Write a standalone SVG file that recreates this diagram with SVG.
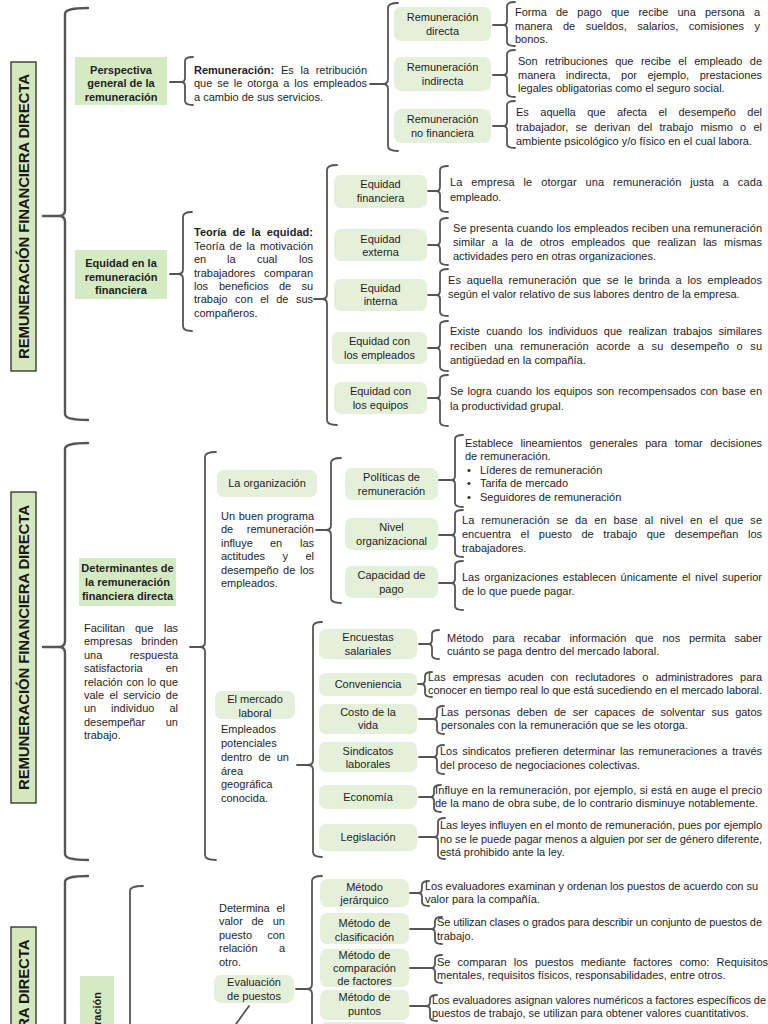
<svg xmlns="http://www.w3.org/2000/svg" width="768" height="1024" viewBox="0 0 768 1024">
<style>
.t{font-family:"Liberation Sans",Arial,Helvetica,sans-serif;font-size:11px;fill:#1e1e1e}
.b{font-weight:bold}
.c{text-anchor:middle}
.e{text-anchor:end}
.tt{font-family:"Liberation Sans",Arial,Helvetica,sans-serif;font-size:15px;font-weight:bold;fill:#1a1a1a;text-anchor:middle}
.sq{fill:#d4eac2}
.rd{fill:#e4f0d9}
.ttl{fill:#d3e9bd;stroke:#2b2b2b;stroke-width:1.3}
.br{fill:none;stroke:#555;stroke-width:1.8;stroke-linecap:round;stroke-linejoin:round}
.bg{stroke-width:2.4}
</style>
<rect width="768" height="1024" fill="#fff"/>

<g id="connectors">
<path class="br bg" d="M88,8 Q65,8 65,14 L65,210 Q65,216 59,216 L43,216 M59,216 Q65,216 65,222 L65,414 Q65,420 88,420"/>
<path class="br" d="M193,57 Q185,57 185,61 L185,78 Q185,82 181,82 L170,82 M181,82 Q185,82 185,86 L185,101 Q185,105 193,105"/>
<path class="br" d="M398,3 Q388,3 388,8 L388,79 Q388,84 383,84 L370,84 M383,84 Q388,84 388,89 L388,146 Q388,151 398,151"/>
<path class="br" d="M515,2 Q507,2 507,6 L507,21 Q507,25 503,25 L493,25 M503,25 Q507,25 507,29 L507,42 Q507,46 515,46"/>
<path class="br" d="M515,50 Q507,50 507,54 L507,71 Q507,75 503,75 L493,75 M503,75 Q507,75 507,79 L507,93 Q507,97 515,97"/>
<path class="br" d="M515,101 Q507,101 507,105 L507,122 Q507,126 503,126 L493,126 M503,126 Q507,126 507,130 L507,144 Q507,148 515,148"/>
<path class="br" d="M192,212 Q183,212 183,217 L183,269 Q183,274 178,274 L170,274 M178,274 Q183,274 183,279 L183,326 Q183,331 192,331"/>
<path class="br" d="M337,165 Q327,165 327,170 L327,294 Q327,299 322,299 L314,299 M322,299 Q327,299 327,304 L327,420 Q327,425 337,425"/>
<path class="br" d="M448,166 Q440,166 440,170 L440,187 Q440,191 436,191 L428,191 M436,191 Q440,191 440,195 L440,208 Q440,212 448,212"/>
<path class="br" d="M448,218 Q440,218 440,222 L440,241 Q440,245 436,245 L428,245 M436,245 Q440,245 440,249 L440,261 Q440,265 448,265"/>
<path class="br" d="M448,269 Q440,269 440,273 L440,291 Q440,295 436,295 L428,295 M436,295 Q440,295 440,299 L440,312 Q440,316 448,316"/>
<path class="br" d="M448,321 Q440,321 440,325 L440,344 Q440,348 436,348 L428,348 M436,348 Q440,348 440,352 L440,367 Q440,371 448,371"/>
<path class="br" d="M448,375 Q440,375 440,379 L440,394 Q440,398 436,398 L428,398 M436,398 Q440,398 440,402 L440,422 Q440,426 448,426"/>

<path class="br bg" d="M88,443 Q65,443 65,449 L65,641 Q65,647 59,647 L43,647 M59,647 Q65,647 65,653 L65,854 Q65,860 88,860"/>
<path class="br" d="M216,452 Q205,452 205,457 L205,642 Q205,647 200,647 L190,647 M200,647 Q205,647 205,652 L205,855 Q205,860 216,860"/>
<path class="br" d="M341,458 Q331,458 331,463 L331,525 Q331,530 326,530 L316,530 M326,530 Q331,530 331,535 L331,598 Q331,603 341,603"/>
<path class="br" d="M463,435 Q455,435 455,439 L455,476 Q455,480 451,480 L439,480 M451,480 Q455,480 455,484 L455,503 Q455,507 463,507"/>
<path class="br" d="M463,510 Q455,510 455,514 L455,531 Q455,535 451,535 L439,535 M451,535 Q455,535 455,539 L455,553 Q455,557 463,557"/>
<path class="br" d="M463,561 Q455,561 455,565 L455,579 Q455,583 451,583 L439,583 M451,583 Q455,583 455,587 L455,606 Q455,610 463,610"/>
<path class="br" d="M322,622 Q313,622 313,627 L313,760 Q313,765 308,765 L297,765 M308,765 Q313,765 313,770 L313,852 Q313,857 322,857"/>
<path class="br" d="M439,630 Q432,630 432,634 L432,640 Q432,644 428,644 L419,644 M428,644 Q432,644 432,648 L432,655 Q432,659 439,659"/>
<path class="br" d="M432,672 Q425,672 425,676 L425,680 Q425,684 421,684 L418,684 M421,684 Q425,684 425,688 L425,693 Q425,697 432,697"/>
<path class="br" d="M444,706 Q437,706 437,710 L437,715 Q437,719 433,719 L419,719 M433,719 Q437,719 437,723 L437,730 Q437,734 444,734"/>
<path class="br" d="M444,745 Q437,745 437,749 L437,753 Q437,757 433,757 L419,757 M433,757 Q437,757 437,761 L437,770 Q437,774 444,774"/>
<path class="br" d="M441,785 Q434,785 434,789 L434,793 Q434,797 430,797 L419,797 M430,797 Q434,797 434,801 L434,808 Q434,812 441,812"/>
<path class="br" d="M445,818 Q438,818 438,822 L438,833 Q438,837 434,837 L419,837 M434,837 Q438,837 438,841 L438,855 Q438,859 445,859"/>

<path class="br bg" d="M88,876 Q65,876 65,882 L65,1030"/>
<path class="br" d="M143,886 Q130,886 130,891 L130,1030"/>
<path class="br" d="M322,876 Q312,876 312,881 L312,984 Q312,989 307,989 L296,989 M307,989 Q312,989 312,994 L312,1030"/>
<path class="br" d="M429,881 Q422,881 422,885 L422,889 Q422,893 418,893 L410,893 M418,893 Q422,893 422,897 L422,902 Q422,906 429,906"/>
<path class="br" d="M442,917 Q435,917 435,921 L435,925 Q435,929 431,929 L410,929 M431,929 Q435,929 435,933 L435,940 Q435,944 442,944"/>
<path class="br" d="M442,955 Q435,955 435,959 L435,964 Q435,968 431,968 L410,968 M431,968 Q435,968 435,972 L435,979 Q435,983 442,983"/>
<path class="br" d="M437,995 Q430,995 430,999 L430,1002 Q430,1006 426,1006 L410,1006 M426,1006 Q430,1006 430,1010 L430,1017 Q430,1021 437,1021"/>
<path class="br" d="M249,1006 L236,1024"/>
</g>

<!-- Section 1 -->
<g id="title-1">
<rect class="ttl" x="11" y="62" width="25" height="309"/>
<text class="tt" transform="translate(29,216.5) rotate(-90)" textLength="285">REMUNERACIÓN FINANCIERA DIRECTA</text>
</g>
<g id="n-perspectiva">
<rect class="sq" x="75" y="57" width="92" height="48"/>
<text class="t b c" x="121" y="74">Perspectiva</text>
<text class="t b c" x="121" y="87">general de la</text>
<text class="t b c" x="121" y="101">remuneración</text>
</g>
<g id="n-remuneracion-def">
<text class="t b" x="194" y="74">Remuneración:</text>
<text class="t" x="281" y="74">Es</text>
<text class="t" x="300.5" y="74">la</text>
<text class="t e" x="367" y="74">retribución</text>
<text class="t" x="194" y="87" style="word-spacing:1.8px" textLength="173">que se le otorga a los empleados</text>
<text class="t" x="194" y="101">a cambio de sus servicios.</text>
</g>
<g id="n-rem-directa">
<rect class="rd" x="394" y="7" width="97" height="34" rx="7"/>
<text class="t c" x="442.5" y="21">Remuneración</text>
<text class="t c" x="442.5" y="35">directa</text>
</g>
<g id="n-rem-indirecta">
<rect class="rd" x="394" y="57" width="97" height="34" rx="7"/>
<text class="t c" x="442.5" y="71">Remuneración</text>
<text class="t c" x="442.5" y="85">indirecta</text>
</g>
<g id="n-rem-nofin">
<rect class="rd" x="394" y="109" width="97" height="34" rx="7"/>
<text class="t c" x="442.5" y="123">Remuneración</text>
<text class="t c" x="442.5" y="137">no financiera</text>
</g>
<g id="d-rem-directa">
<text class="t" x="515" y="16" style="word-spacing:6.1px" textLength="245">Forma de pago que recibe una persona a</text>
<text class="t" x="515" y="30" style="word-spacing:7.5px" textLength="245">manera de sueldos, salarios, comisiones y</text>
<text class="t" x="515" y="43">bonos.</text>
</g>
<g id="d-rem-indirecta">
<text class="t" x="518" y="65" style="word-spacing:4.4px" textLength="244">Son retribuciones que recibe el empleado de</text>
<text class="t" x="518" y="79" style="word-spacing:7.5px" textLength="244">manera indirecta, por ejemplo, prestaciones</text>
<text class="t" x="518" y="92">legales obligatorias como el seguro social.</text>
</g>
<g id="d-rem-nofin">
<text class="t" x="516" y="116" style="word-spacing:8.4px" textLength="246">Es aquella que afecta el desempeño del</text>
<text class="t" x="516" y="131" style="word-spacing:4.1px" textLength="246">trabajador, se derivan del trabajo mismo o el</text>
<text class="t" x="516" y="145">ambiente psicológico y/o físico en el cual labora.</text>
</g>

<g id="n-equidad">
<rect class="sq" x="75" y="250" width="92" height="49"/>
<text class="t b c" x="121" y="267">Equidad en la</text>
<text class="t b c" x="121" y="281">remuneración</text>
<text class="t b c" x="121" y="294">financiera</text>
</g>
<g id="n-teoria">
<text class="t b" x="194" y="236" style="word-spacing:3px" textLength="119">Teoría de la equidad:</text>
<text class="t" x="194" y="250" style="word-spacing:1.6px" textLength="119">Teoría de la motivación</text>
<text class="t" x="194" y="263">en</text>
<text class="t" x="227" y="263">la</text>
<text class="t" x="257" y="263">cual</text>
<text class="t e" x="313" y="263">los</text>
<text class="t" x="194" y="277" style="word-spacing:5.9px" textLength="119">trabajadores comparan</text>
<text class="t" x="194" y="290">los</text>
<text class="t" x="219" y="290">beneficios</text>
<text class="t" x="279" y="290">de</text>
<text class="t e" x="313" y="290">su</text>
<text class="t" x="194" y="303" style="word-spacing:4.4px" textLength="119">trabajo con el de sus</text>
<text class="t" x="194" y="317">compañeros.</text>
</g>
<g id="n-eq-fin">
<rect class="rd" x="334" y="175" width="93" height="33" rx="7"/>
<text class="t c" x="380.5" y="188">Equidad</text>
<text class="t c" x="380.5" y="202">financiera</text>
</g>
<g id="n-eq-ext">
<rect class="rd" x="334" y="229" width="93" height="32" rx="7"/>
<text class="t c" x="380.5" y="243">Equidad</text>
<text class="t c" x="380.5" y="256">externa</text>
</g>
<g id="n-eq-int">
<rect class="rd" x="334" y="279" width="93" height="32" rx="7"/>
<text class="t c" x="380.5" y="292">Equidad</text>
<text class="t c" x="380.5" y="305">interna</text>
</g>
<g id="n-eq-emp">
<rect class="rd" x="332" y="332" width="95" height="32" rx="7"/>
<text class="t c" x="379.5" y="345">Equidad con</text>
<text class="t c" x="379.5" y="359">los empleados</text>
</g>
<g id="n-eq-equipos">
<rect class="rd" x="334" y="382" width="93" height="32" rx="7"/>
<text class="t c" x="380.5" y="395">Equidad con</text>
<text class="t c" x="380.5" y="409">los equipos</text>
</g>
<g id="d-eq-fin">
<text class="t" x="450" y="186" style="word-spacing:5.7px" textLength="312">La empresa le otorgar una remuneración justa a cada</text>
<text class="t" x="450" y="201">empleado.</text>
</g>
<g id="d-eq-ext">
<text class="t" x="453" y="232" textLength="309">Se presenta cuando los empleados reciben una remuneración</text>
<text class="t" x="453" y="246" style="word-spacing:3.9px" textLength="309">similar a la de otros empleados que realizan las mismas</text>
<text class="t" x="453" y="260">actividades pero en otras organizaciones.</text>
</g>
<g id="d-eq-int">
<text class="t" x="448" y="284" style="word-spacing:2.6px" textLength="314">Es aquella remuneración que se le brinda a los empleados</text>
<text class="t" x="448" y="298">según el valor relativo de sus labores dentro de la empresa.</text>
</g>
<g id="d-eq-emp">
<text class="t" x="450" y="335" style="word-spacing:3.1px" textLength="312">Existe cuando los individuos que realizan trabajos similares</text>
<text class="t" x="450" y="350" style="word-spacing:4.3px" textLength="312">reciben una remuneración acorde a su desempeño o su</text>
<text class="t" x="450" y="364">antigüedad en la compañía.</text>
</g>
<g id="d-eq-equipos">
<text class="t" x="450" y="395" style="word-spacing:1px" textLength="312">Se logra cuando los equipos son recompensados con base en</text>
<text class="t" x="450" y="410">la productividad grupal.</text>
</g>

<!-- Section 2 -->
<g id="title-2">
<rect class="ttl" x="11" y="492" width="25" height="311"/>
<text class="tt" transform="translate(29,647.5) rotate(-90)" textLength="285">REMUNERACIÓN FINANCIERA DIRECTA</text>
</g>
<g id="n-determinantes">
<rect class="sq" x="79" y="558" width="97" height="48"/>
<text class="t b c" x="127.5" y="572">Determinantes de</text>
<text class="t b c" x="127.5" y="586">la remuneración</text>
<text class="t b c" x="127.5" y="600">financiera directa</text>
<text class="t" x="84" y="632">Facilitan</text>
<text class="t" x="135" y="632">que</text>
<text class="t e" x="178" y="632">las</text>
<text class="t" x="84" y="645">empresas</text>
<text class="t e" x="178" y="645">brinden</text>
<text class="t" x="84" y="659">una</text>
<text class="t e" x="178" y="659">respuesta</text>
<text class="t" x="84" y="672">satisfactoria</text>
<text class="t e" x="178" y="672">en</text>
<text class="t" x="84" y="686" style="word-spacing:0.5px" textLength="94">relación con lo que</text>
<text class="t" x="84" y="699" style="word-spacing:2.2px" textLength="94">vale el servicio de</text>
<text class="t" x="84" y="712">un</text>
<text class="t" x="111" y="712">individuo</text>
<text class="t e" x="178" y="712">al</text>
<text class="t" x="84" y="726">desempeñar</text>
<text class="t e" x="178" y="726">un</text>
<text class="t" x="84" y="739">trabajo.</text>
</g>
<g id="n-organizacion">
<rect class="rd" x="217" y="470" width="100" height="27" rx="7"/>
<text class="t c" x="267" y="487">La organización</text>
<text class="t" x="221" y="520" style="word-spacing:0.6px" textLength="93">Un buen programa</text>
<text class="t" x="221" y="533">de</text>
<text class="t e" x="314" y="533">remuneración</text>
<text class="t" x="221" y="547">influye</text>
<text class="t" x="270" y="547">en</text>
<text class="t e" x="314" y="547">las</text>
<text class="t" x="221" y="560">actitudes</text>
<text class="t" x="282.5" y="560">y</text>
<text class="t e" x="314" y="560">el</text>
<text class="t" x="221" y="574" style="word-spacing:1.5px" textLength="93">desempeño de los</text>
<text class="t" x="221" y="587">empleados.</text>
</g>
<g id="n-politicas">
<rect class="rd" x="345" y="468" width="93" height="32" rx="7"/>
<text class="t c" x="391.5" y="481">Políticas de</text>
<text class="t c" x="391.5" y="495">remuneración</text>
</g>
<g id="n-nivel">
<rect class="rd" x="345" y="518" width="93" height="32" rx="7"/>
<text class="t c" x="391.5" y="531">Nivel</text>
<text class="t c" x="391.5" y="545">organizacional</text>
</g>
<g id="n-capacidad">
<rect class="rd" x="345" y="566" width="93" height="32" rx="7"/>
<text class="t c" x="391.5" y="579">Capacidad de</text>
<text class="t c" x="391.5" y="593">pago</text>
</g>
<g id="d-politicas">
<text class="t" x="465" y="447" style="word-spacing:4.5px" textLength="297">Establece lineamientos generales para tomar decisiones</text>
<text class="t" x="465" y="460">de remuneración.</text>
<text class="t" x="467" y="474">•</text><text class="t" x="480" y="474">Líderes de remuneración</text>
<text class="t" x="467" y="487">•</text><text class="t" x="480" y="487">Tarifa de mercado</text>
<text class="t" x="467" y="501">•</text><text class="t" x="480" y="501">Seguidores de remuneración</text>
</g>
<g id="d-nivel">
<text class="t" x="462" y="524" style="word-spacing:3.7px" textLength="300">La remuneración se da en base al nivel en el que se</text>
<text class="t" x="462" y="538" style="word-spacing:6.6px" textLength="300">encuentra el puesto de trabajo que desempeñan los</text>
<text class="t" x="462" y="552">trabajadores.</text>
</g>
<g id="d-capacidad">
<text class="t" x="462" y="581" style="word-spacing:1.5px" textLength="300">Las organizaciones establecen únicamente el nivel superior</text>
<text class="t" x="462" y="595">de lo que puede pagar.</text>
</g>
<g id="n-mercado">
<rect class="rd" x="215" y="691" width="80" height="28" rx="7"/>
<text class="t c" x="255" y="703">El mercado</text>
<text class="t c" x="255" y="717">laboral</text>
<text class="t" x="221" y="733">Empleados</text>
<text class="t" x="221" y="747">potenciales</text>
<text class="t" x="221" y="761">dentro</text>
<text class="t" x="258.5" y="761">de</text>
<text class="t e" x="289" y="761">un</text>
<text class="t" x="221" y="775">área</text>
<text class="t" x="221" y="788">geográfica</text>
<text class="t" x="221" y="802">conocida.</text>
</g>
<g id="n-encuestas">
<rect class="rd" x="319" y="629" width="98" height="30" rx="7"/>
<text class="t c" x="368" y="641">Encuestas</text>
<text class="t c" x="368" y="655">salariales</text>
</g>
<g id="n-conveniencia">
<rect class="rd" x="319" y="673" width="98" height="23" rx="7"/>
<text class="t c" x="368" y="688">Conveniencia</text>
</g>
<g id="n-costo">
<rect class="rd" x="319" y="704" width="98" height="30" rx="7"/>
<text class="t c" x="368" y="716">Costo de la</text>
<text class="t c" x="368" y="729">vida</text>
</g>
<g id="n-sindicatos">
<rect class="rd" x="319" y="742" width="98" height="30" rx="7"/>
<text class="t c" x="368" y="755">Sindicatos</text>
<text class="t c" x="368" y="768">laborales</text>
</g>
<g id="n-economia">
<rect class="rd" x="319" y="785" width="98" height="24" rx="7"/>
<text class="t c" x="368" y="801">Economía</text>
</g>
<g id="n-legislacion">
<rect class="rd" x="319" y="824" width="98" height="27" rx="7"/>
<text class="t c" x="368" y="841">Legislación</text>
</g>
<g id="d-encuestas">
<text class="t" x="447" y="642" style="word-spacing:5.8px" textLength="315">Método para recabar información que nos permita saber</text>
<text class="t" x="447" y="655">cuánto se paga dentro del mercado laboral.</text>
</g>
<g id="d-conveniencia">
<text class="t" x="428" y="681" style="word-spacing:4.1px" textLength="334">Las empresas acuden con reclutadores o administradores para</text>
<text class="t" x="428" y="694" textLength="334">conocer en tiempo real lo que está sucediendo en el mercado laboral.</text>
</g>
<g id="d-costo">
<text class="t" x="441" y="716" style="word-spacing:3.5px" textLength="321">Las personas deben de ser capaces de solventar sus gatos</text>
<text class="t" x="441" y="729">personales con la remuneración que se les otorga.</text>
</g>
<g id="d-sindicatos">
<text class="t" x="440" y="755" style="word-spacing:1.5px" textLength="322">Los sindicatos prefieren determinar las remuneraciones a través</text>
<text class="t" x="440" y="769">del proceso de negociaciones colectivas.</text>
</g>
<g id="d-economia">
<text class="t" x="435" y="794" textLength="327">Influye en la remuneración, por ejemplo, si está en auge el precio</text>
<text class="t" x="435" y="807">de la mano de obra sube, de lo contrario disminuye notablemente.</text>
</g>
<g id="d-legislacion">
<text class="t" x="440" y="829" textLength="322">Las leyes influyen en el monto de remuneración, pues por ejemplo</text>
<text class="t" x="440" y="843" textLength="322">no se le puede pagar menos a alguien por ser de género diferente,</text>
<text class="t" x="440" y="856">está prohibido ante la ley.</text>
</g>

<!-- Section 3 -->
<g id="title-3">
<rect class="ttl" x="11" y="927" width="25" height="309"/>
<text class="tt" transform="translate(29,1082) rotate(-90)" textLength="285">REMUNERACIÓN FINANCIERA DIRECTA</text>
</g>
<g id="n-sec3">
<rect class="sq" x="80" y="976" width="34" height="60"/>
<text class="t b e" transform="translate(101,992) rotate(-90)">ración</text>
</g>
<g id="n-determina">
<text class="t" x="219" y="912">Determina</text>
<text class="t e" x="285" y="912">el</text>
<text class="t" x="219" y="925">valor</text>
<text class="t" x="251.5" y="925">de</text>
<text class="t e" x="285" y="925">un</text>
<text class="t" x="219" y="939">puesto</text>
<text class="t e" x="285" y="939">con</text>
<text class="t" x="219" y="952">relación</text>
<text class="t e" x="285" y="952">a</text>
<text class="t" x="219" y="966">otro.</text>
</g>
<g id="n-evaluacion">
<rect class="rd" x="214" y="975" width="80" height="28" rx="7"/>
<text class="t c" x="254" y="986">Evaluación</text>
<text class="t c" x="254" y="1000">de puestos</text>
</g>
<g id="n-jerarquico">
<rect class="rd" x="320" y="879" width="89" height="28" rx="7"/>
<text class="t c" x="364.5" y="891">Método</text>
<text class="t c" x="364.5" y="904">jerárquico</text>
</g>
<g id="n-clasificacion">
<rect class="rd" x="320" y="913" width="89" height="31" rx="7"/>
<text class="t c" x="364.5" y="927">Método de</text>
<text class="t c" x="364.5" y="941">clasificación</text>
</g>
<g id="n-comparacion">
<rect class="rd" x="320" y="949" width="89" height="38" rx="7"/>
<text class="t c" x="364.5" y="959">Método de</text>
<text class="t c" x="364.5" y="972">comparación</text>
<text class="t c" x="364.5" y="985">de factores</text>
</g>
<g id="n-puntos">
<rect class="rd" x="320" y="990" width="89" height="30" rx="7"/>
<text class="t c" x="364.5" y="1001">Método de</text>
<text class="t c" x="364.5" y="1015">puntos</text>
</g>
<g id="n-next">
<rect class="rd" x="320" y="1022" width="89" height="30" rx="7"/>
</g>
<g id="d-jerarquico">
<text class="t" x="425" y="890" textLength="333">Los evaluadores examinan y ordenan los puestos de acuerdo con su</text>
<text class="t" x="425" y="903">valor para la compañía.</text>
</g>
<g id="d-clasificacion">
<text class="t" x="437" y="926" textLength="325">Se utilizan clases o grados para describir un conjunto de puestos de</text>
<text class="t" x="437" y="940">trabajo.</text>
</g>
<g id="d-comparacion">
<text class="t" x="437" y="966" style="word-spacing:4.1px" textLength="331">Se comparan los puestos mediante factores como: Requisitos</text>
<text class="t" x="437" y="979">mentales, requisitos físicos, responsabilidades, entre otros.</text>
</g>
<g id="d-puntos">
<text class="t" x="432" y="1004" textLength="334">Los evaluadores asignan valores numéricos a factores específicos de</text>
<text class="t" x="432" y="1017">puestos de trabajo, se utilizan para obtener valores cuantitativos.</text>
</g>
</svg>
